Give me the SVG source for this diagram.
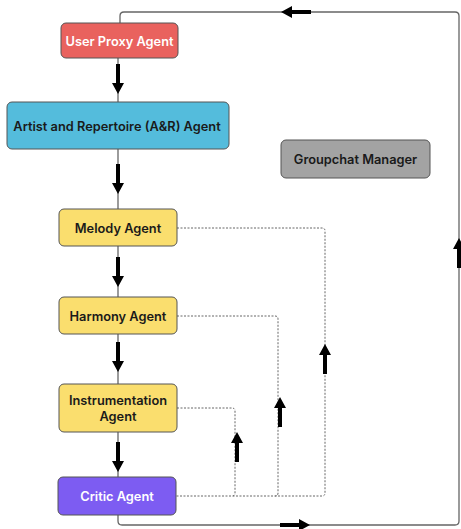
<svg xmlns="http://www.w3.org/2000/svg" width="461" height="529" viewBox="0 0 461 529">
<style>
.box{stroke:#555;stroke-width:1;}
.t{font-family:Inter,"Liberation Sans",sans-serif;font-weight:600;font-size:12.8px;text-anchor:middle;dominant-baseline:central;}
.dark{fill:#1a1a1a;}
.light{fill:#ffffff;}
.solid{fill:none;stroke:#666;stroke-width:1.3;}
.dash{fill:none;stroke:#666;stroke-width:1;stroke-dasharray:2 1.5;}
.arr{fill:#000;}
</style>
<defs>
<path id="arrow" d="M-2,-30 L2,-30 L2,-11 L6,-11 L0,0 L-6,-11 L-2,-11 Z"/>
</defs>
<rect width="461" height="529" fill="#ffffff"/>
<g id="connectors">
<path class="solid" d="M120,23 V16 Q120,12 124,12 H455 Q459,12 459,16 V521 Q459,525 455,525 H122 Q118,525 118,521 V515"/>
<line class="solid" x1="118" y1="58" x2="118" y2="102"/>
<line class="solid" x1="118" y1="149" x2="118" y2="209"/>
<line class="solid" x1="118" y1="246" x2="118" y2="297"/>
<line class="solid" x1="118" y1="334" x2="118" y2="384"/>
<line class="solid" x1="118" y1="432" x2="118" y2="477"/>
<path class="dash" d="M177,228 H322 Q325,228 325,231 V493 Q325,496 322,496 H176"/>
<path class="dash" d="M177,316 H275 Q278,316 278,319 V493 Q278,496 275,496"/>
<path class="dash" d="M177,408 H232 Q235,408 235,411 V493 Q235,496 232,496"/>
<g class="arr">
<use href="#arrow" transform="translate(118,94)"/>
<use href="#arrow" transform="translate(118,194)"/>
<use href="#arrow" transform="translate(118,287)"/>
<use href="#arrow" transform="translate(118,372)"/>
<use href="#arrow" transform="translate(118,472)"/>
<use href="#arrow" transform="translate(325,344) rotate(180)"/>
<use href="#arrow" transform="translate(280,397) rotate(180)"/>
<use href="#arrow" transform="translate(237,432) rotate(180)"/>
<use href="#arrow" transform="translate(459,238) rotate(180)"/>
<use href="#arrow" transform="translate(281,12) rotate(90)"/>
<use href="#arrow" transform="translate(310,525) rotate(-90)"/>
</g>
</g>
<g id="user-proxy">
<rect class="box" x="61" y="23" width="117" height="35" rx="5" fill="#e9625e"/>
<text class="t light" x="119.5" y="41">User Proxy Agent</text>
</g>
<g id="ar-agent">
<rect class="box" x="7" y="102" width="222" height="47" rx="5" fill="#54bcdc"/>
<text class="t dark" x="117" y="126">Artist and Repertoire (A&amp;R) Agent</text>
</g>
<g id="groupchat-manager">
<rect class="box" x="281" y="140" width="149" height="38" rx="5" fill="#a3a3a3"/>
<text class="t dark" x="355.5" y="159">Groupchat Manager</text>
</g>
<g id="melody">
<rect class="box" x="59" y="209" width="118" height="37" rx="5" fill="#fade6e"/>
<text class="t dark" x="118" y="228">Melody Agent</text>
</g>
<g id="harmony">
<rect class="box" x="59" y="297" width="118" height="37" rx="5" fill="#fade6e"/>
<text class="t dark" x="118" y="316">Harmony Agent</text>
</g>
<g id="instrumentation">
<rect class="box" x="59" y="384" width="118" height="48" rx="5" fill="#fade6e"/>
<text class="t dark" x="118" y="400.5">Instrumentation</text>
<text class="t dark" x="118" y="416">Agent</text>
</g>
<g id="critic">
<rect class="box" x="58" y="477" width="118" height="38" rx="5" fill="#7d5cf2"/>
<text class="t light" x="117" y="496.5">Critic Agent</text>
</g>
</svg>
